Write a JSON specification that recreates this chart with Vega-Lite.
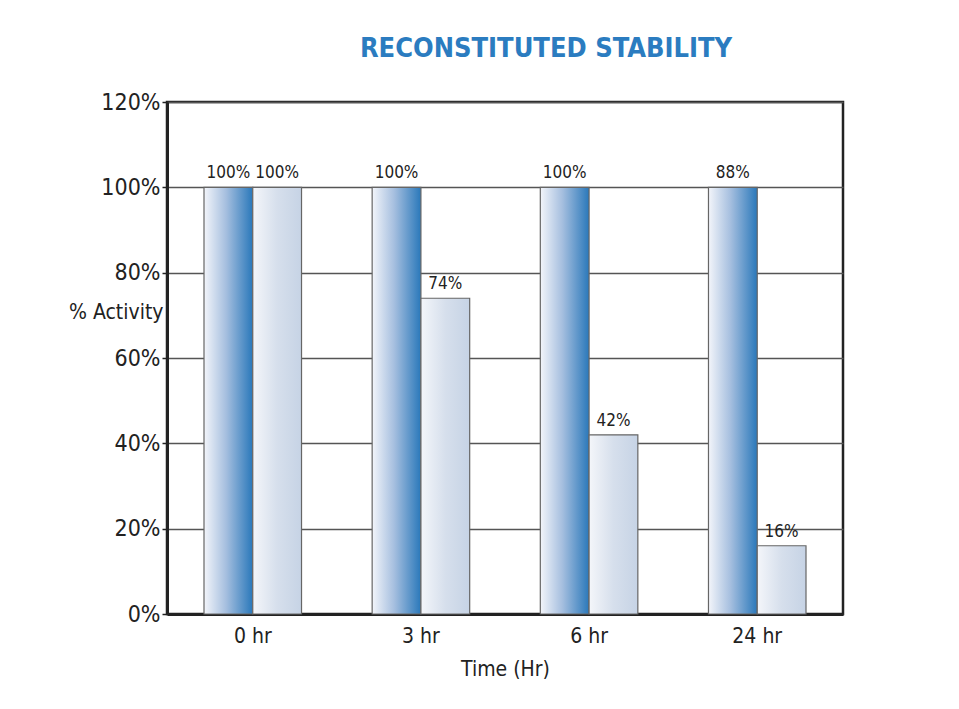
{
  "$schema": "https://vega.github.io/schema/vega-lite/v6.json",
  "width": 676,
  "height": 512,
  "autosize": "none",
  "padding": {"left": 167, "top": 102, "right": 116, "bottom": 95},
  "background": "white",
  "title": {
    "text": "RECONSTITUTED STABILITY",
    "font": "DejaVu Sans Condensed, Roboto Condensed, Roboto, sans-serif",
    "fontSize": 27,
    "fontWeight": "bold",
    "color": "#2b7cc0",
    "anchor": "middle",
    "dx": 41,
    "offset": 28
  },
  "config": {
    "view": {"stroke": "#222", "strokeWidth": 2.5},
    "font": "DejaVu Sans Condensed, Roboto Condensed, Roboto, sans-serif"
  },
  "data": {
    "values": [
      {"time": "0 hr", "series": "A", "value": 100, "label": "100%"},
      {"time": "0 hr", "series": "B", "value": 100, "label": "100%"},
      {"time": "3 hr", "series": "A", "value": 100, "label": "100%"},
      {"time": "3 hr", "series": "B", "value": 74, "label": "74%"},
      {"time": "6 hr", "series": "A", "value": 100, "label": "100%"},
      {"time": "6 hr", "series": "B", "value": 42, "label": "42%"},
      {"time": "24 hr", "series": "A", "value": 100, "label": "88%"},
      {"time": "24 hr", "series": "B", "value": 16, "label": "16%"}
    ]
  },
  "encoding": {
    "x": {
      "field": "time",
      "type": "nominal",
      "sort": ["0 hr", "3 hr", "6 hr", "24 hr"],
      "scale": {"paddingInner": 0.42, "paddingOuter": 0.22},
      "axis": {
        "title": "Time (Hr)",
        "labelAngle": 0,
        "labelFontSize": 21,
        "labelColor": "#222",
        "labelPadding": 11,
        "ticks": false,
        "domainColor": "#222",
        "domainWidth": 3,
        "titleFontSize": 21,
        "titleFontWeight": "normal",
        "titleColor": "#222",
        "titlePadding": 12
      }
    },
    "xOffset": {"field": "series", "type": "nominal", "scale": {"domain": ["A", "B"], "paddingInner": 0, "paddingOuter": 0}},
    "y": {
      "field": "value",
      "type": "quantitative",
      "scale": {"domain": [0, 120], "nice": false},
      "axis": {
        "values": [0, 20, 40, 60, 80, 100, 120],
        "labelExpr": "datum.value + '%'",
        "labelFontSize": 23,
        "labelColor": "#222",
        "labelPadding": 2,
        "tickSize": 5,
        "tickColor": "#222",
        "tickWidth": 1.5,
        "domainColor": "#222",
        "domainWidth": 3,
        "gridColor": "#555",
        "gridWidth": 1.5,
        "title": "% Activity",
        "titleAngle": 0,
        "titleAlign": "right",
        "titleBaseline": "middle",
        "titleFontSize": 21,
        "titleFontWeight": "normal",
        "titleColor": "#222",
        "titleX": -4,
        "titleY": 210
      }
    }
  },
  "layer": [
    {
      "transform": [{"filter": "datum.series === 'A'"}],
      "mark": {
        "type": "bar",
        "stroke": "#666",
        "strokeWidth": 1.2,
        "color": {
          "gradient": "linear",
          "x1": 0, "y1": 0, "x2": 1, "y2": 0,
          "stops": [
            {"offset": 0, "color": "#f3f5fa"},
            {"offset": 0.45, "color": "#a6bfdf"},
            {"offset": 1, "color": "#2a78ba"}
          ]
        }
      }
    },
    {
      "transform": [{"filter": "datum.series === 'B'"}],
      "mark": {
        "type": "bar",
        "stroke": "#666",
        "strokeWidth": 1.2,
        "color": {
          "gradient": "linear",
          "x1": 0, "y1": 0, "x2": 1, "y2": 0,
          "stops": [
            {"offset": 0, "color": "#f4f6fa"},
            {"offset": 0.5, "color": "#d6dfec"},
            {"offset": 1, "color": "#c6d3e5"}
          ]
        }
      }
    },
    {
      "mark": {"type": "text", "baseline": "bottom", "dy": -5, "fontSize": 17, "color": "#222"},
      "encoding": {"text": {"field": "label"}}
    }
  ]
}
